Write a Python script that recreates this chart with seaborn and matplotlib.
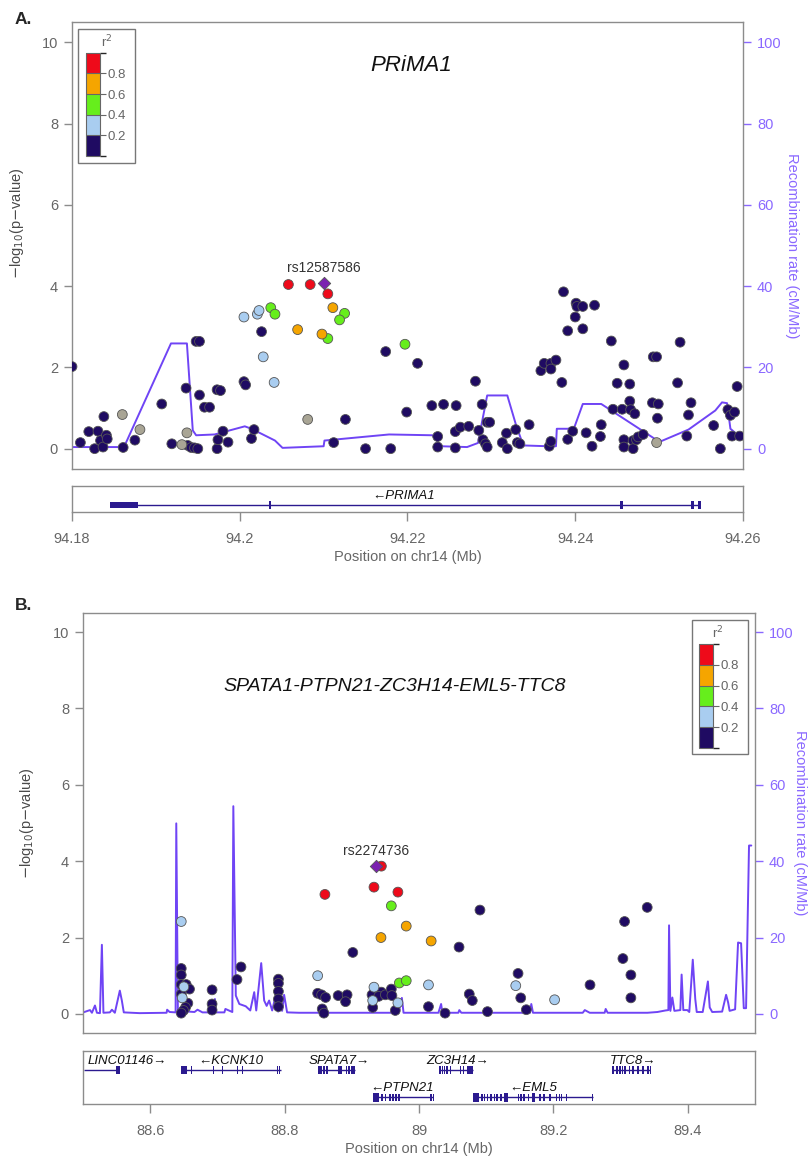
import numpy as np
import pandas as pd
import matplotlib
matplotlib.use("Agg")
import matplotlib.pyplot as plt
import seaborn as sns
from matplotlib.colors import ListedColormap, BoundaryNorm
from matplotlib.cm import ScalarMappable
from matplotlib.patches import Rectangle

sns.set_theme(style="white")
plt.rcParams["font.family"] = ["Liberation Sans", "DejaVu Sans"]

# ---------------- colours ----------------
LD_ORDER = ["navy", "gray", "lblue", "green", "orange", "red"]
LD_COLORS = {"navy": "#1f0b62", "gray": "#a9a595", "lblue": "#a9cdf0",
             "green": "#66ee1c", "orange": "#f5a500", "red": "#ee0a1a"}
LEAD_COLOR = "#7b22b0"
REC_COLOR = "#6f44f5"
REC_AXIS_COLOR = "#8a68ff"
GENE_COLOR = "#2b1a8f"
GRAY = "#666666"
FRAME = "#8c8c8c"

# ---------------- Panel A data (PRiMA1) ----------------
a_navy_pos = [94.1800, 94.1810, 94.1820, 94.1827, 94.1831, 94.1834, 94.1837, 94.1838, 94.1841, 94.1842,
              94.1861, 94.1875, 94.1907, 94.1919, 94.1936, 94.1938, 94.1942, 94.1946, 94.1950, 94.1948,
              94.1952, 94.1952, 94.1958, 94.1964, 94.1973, 94.1977, 94.1973, 94.1974, 94.1980, 94.1986,
              94.2005, 94.2007, 94.2014, 94.2017, 94.2026, 94.2126, 94.2112, 94.2150, 94.2174, 94.2180,
              94.2199, 94.2212, 94.2229, 94.2236, 94.2236, 94.2243, 94.2258, 94.2257, 94.2257, 94.2263,
              94.2273, 94.2281, 94.2285, 94.2289, 94.2290, 94.2293, 94.2295, 94.2295, 94.2298, 94.2313,
              94.2318, 94.2319, 94.2329, 94.2331, 94.2334, 94.2345, 94.2359, 94.2363, 94.2371, 94.2371,
              94.2377, 94.2384, 94.2369, 94.2371, 94.2386, 94.2391, 94.2391, 94.2397, 94.2401, 94.2402,
              94.2400, 94.2409, 94.2409, 94.2413, 94.2420, 94.2423, 94.2430, 94.2431, 94.2443, 94.2445,
              94.2450, 94.2458, 94.2456, 94.2458, 94.2458, 94.2465, 94.2465, 94.2466, 94.2471, 94.2469,
              94.2469, 94.2473, 94.2475, 94.2481, 94.2492, 94.2499, 94.2498, 94.2493, 94.2497, 94.2522,
              94.2525, 94.2533, 94.2535, 94.2538, 94.2565, 94.2573, 94.2582, 94.2585, 94.2590, 94.2587,
              94.2596, 94.2593]
a_navy_logp = [2.02, 0.15, 0.42, 0.00, 0.43, 0.20, 0.04, 0.79, 0.33, 0.24,
               0.03, 0.21, 1.10, 0.12, 1.49, 0.08, 0.03, 0.02, 0.00, 2.64,
               2.64, 1.32, 1.02, 1.02, 1.45, 1.43, 0.00, 0.22, 0.43, 0.16,
               1.65, 1.57, 0.25, 0.47, 2.88, 0.72, 0.15, 0.00, 2.39, 0.00,
               0.90, 2.10, 1.06, 0.30, 0.04, 1.09, 1.06, 0.42, 0.02, 0.53,
               0.55, 1.66, 0.45, 1.09, 0.22, 0.12, 0.04, 0.65, 0.65, 0.15,
               0.38, 0.00, 0.47, 0.15, 0.12, 0.59, 1.92, 2.10, 2.10, 1.96,
               2.18, 1.63, 0.06, 0.18, 3.86, 2.90, 0.23, 0.43, 3.58, 3.50,
               3.24, 3.50, 2.95, 0.39, 0.06, 3.53, 0.30, 0.59, 2.65, 0.97,
               1.61, 2.06, 0.97, 0.22, 0.04, 1.59, 1.17, 0.96, 0.86, 0.20,
               0.00, 0.22, 0.29, 0.35, 1.13, 1.10, 0.75, 2.26, 2.26, 1.62,
               2.62, 0.31, 0.83, 1.13, 0.57, 0.00, 0.96, 0.82, 0.90, 0.31,
               0.31, 1.53]
a_gray_pos = [94.1860, 94.1881, 94.1931, 94.1937, 94.2081, 94.2497]
a_gray_logp = [0.84, 0.47, 0.10, 0.39, 0.72, 0.15]
a_lblue_pos = [94.2005, 94.2021, 94.2023, 94.2028, 94.2041]
a_lblue_logp = [3.24, 3.31, 3.40, 2.26, 1.63]
a_green_pos = [94.2037, 94.2042, 94.2105, 94.2125, 94.2119, 94.2197]
a_green_logp = [3.47, 3.31, 2.71, 3.33, 3.17, 2.57]
a_orange_pos = [94.2069, 94.2098, 94.2111]
a_orange_logp = [2.93, 2.82, 3.47]
a_red_pos = [94.2058, 94.2084, 94.2105]
a_red_logp = [4.04, 4.04, 3.81]
a_lead_pos, a_lead_logp, a_lead_name = 94.2100, 4.07, "rs12587586"

a_rec_pos = [94.1800, 94.1862, 94.1918, 94.1937, 94.1944, 94.1948, 94.1970, 94.2006, 94.2014, 94.2042,
             94.2051, 94.2100, 94.2101, 94.2178, 94.2230, 94.2240, 94.2271, 94.2284, 94.2295, 94.2319,
             94.2329, 94.2338, 94.2367, 94.2377, 94.2378, 94.2391, 94.2399, 94.2409, 94.2431, 94.2495,
             94.2503, 94.2535, 94.2567, 94.2575, 94.2581, 94.2585, 94.2596, 94.2600]
a_rec_rate = [0.4, 0.4, 25.9, 25.9, 4.5, 3.3, 3.5, 5.5, 4.9, 2.0,
              0.2, 0.6, 2.0, 3.5, 3.3, 0.6, 0.4, 1.4, 13.1, 13.1,
              6.1, 0.8, 0.6, 0.6, 4.9, 4.9, 5.3, 11.0, 11.0, 2.4,
              1.9, 4.7, 9.4, 11.4, 11.2, 4.9, 3.0, 3.0]

a_gene_name = ["PRIMA1"]
a_gene_start = [94.1845]
a_gene_end = [94.2548]
a_gene_strand = ["-"]
a_gene_row = [0]
a_gene_label_x = [94.2195]
a_exon_blocks = [[(94.1845, 94.1879)]]
a_exon_ticks = [[94.2036, 94.2455, 94.2540, 94.2548]]

# ---------------- Panel B data ----------------
b_navy_pos = [88.6462, 88.6462, 88.6462, 88.6536, 88.6585, 88.6462, 88.6560, 88.6526, 88.6496, 88.6462,
              88.6921, 88.6921, 88.6921, 88.7292, 88.7351, 88.7908, 88.7908, 88.7908, 88.7908, 88.7908,
              88.8492, 88.8551, 88.8610, 88.8560, 88.8585, 88.8797, 88.8930, 88.8907, 88.9015, 88.9301,
              88.9311, 88.9440, 88.9400, 88.9499, 88.9588, 88.9597, 88.9647, 89.0141, 89.0388, 89.0596,
              89.0748, 89.0793, 89.0907, 89.1019, 89.1474, 89.1514, 89.1597, 89.2545, 89.3059, 89.3034,
              89.3153, 89.3153, 89.3396]
b_navy_logp = [1.19, 1.02, 0.77, 0.77, 0.65, 0.52, 0.28, 0.17, 0.09, 0.02,
               0.63, 0.26, 0.10, 0.90, 1.23, 0.91, 0.80, 0.59, 0.39, 0.19,
               0.54, 0.50, 0.43, 0.13, 0.02, 0.48, 0.50, 0.32, 1.61, 0.50,
               0.17, 0.57, 0.46, 0.50, 0.65, 0.48, 0.09, 0.19, 0.02, 1.75,
               0.52, 0.35, 2.72, 0.06, 1.06, 0.42, 0.11, 0.76, 2.42, 1.45,
               1.02, 0.42, 2.79]
b_lblue_pos = [88.6462, 88.6501, 88.6477, 88.8492, 88.9330, 88.9311, 88.9686, 89.0141, 89.1440, 89.2018]
b_lblue_logp = [2.42, 0.71, 0.42, 1.00, 0.70, 0.35, 0.29, 0.76, 0.74, 0.37]
b_green_pos = [88.9588, 88.9707, 88.9810]
b_green_logp = [2.83, 0.81, 0.87]
b_orange_pos = [88.9810, 88.9434, 89.0181]
b_orange_logp = [2.30, 2.00, 1.91]
b_red_pos = [88.8600, 88.9330, 88.9440, 88.9686]
b_red_logp = [3.13, 3.32, 3.87, 3.19]
b_lead_pos, b_lead_logp, b_lead_name = 88.9366, 3.87, "rs2274736"

b_rec_pos = [88.5004, 88.5104, 88.5133, 88.5178, 88.5207, 88.5252, 88.5281, 88.5304, 88.5400, 88.5430,
             88.5474, 88.5548, 88.5578, 88.5607, 88.5844, 88.6244, 88.6252, 88.6289, 88.6378, 88.6388,
             88.6412, 88.6659, 88.6704, 88.6778, 88.6956, 88.6963, 88.6978, 88.7104, 88.7119, 88.7222,
             88.7237, 88.7274, 88.7326, 88.7422, 88.7489, 88.7548, 88.7578, 88.7652, 88.7696, 88.7733,
             88.7770, 88.7815, 88.7867, 88.7904, 88.7919, 88.7963, 88.7993, 88.8037, 88.8215, 88.8659,
             88.9400, 88.9696, 88.9745, 88.9770, 89.0289, 89.0329, 89.0348, 89.0585, 89.0600, 89.0630,
             89.1178, 89.1652, 89.1671, 89.1696, 89.2437, 89.2467, 89.2541, 89.2763, 89.2778, 89.2807,
             89.3400, 89.3548, 89.3667, 89.3711, 89.3721, 89.3741, 89.3770, 89.3800, 89.3889, 89.3908,
             89.3933, 89.3993, 89.4022, 89.4074, 89.4111, 89.4133, 89.4222, 89.4299, 89.4326, 89.4363,
             89.4511, 89.4570, 89.4600, 89.4622, 89.4704, 89.4748, 89.4793, 89.4833, 89.4867, 89.4911,
             89.4945]
b_rec_rate = [0.4, 1.0, 0.3, 2.2, 0.3, 0.2, 18.1, 0.3, 0.4, 1.1,
              0.3, 6.1, 3.5, 0.4, 0.2, 0.3, 1.1, 0.5, 0.4, 49.9,
              0.8, 0.5, 1.1, 0.4, 0.4, 3.9, 0.4, 0.4, 1.3, 0.5,
              54.4, 4.8, 2.6, 2.0, 0.9, 5.7, 0.9, 13.3, 3.5, 2.1,
              3.5, 0.9, 4.8, 0.6, 4.3, 0.8, 5.0, 0.4, 0.3, 0.3,
              0.3, 0.3, 4.2, 0.3, 0.3, 2.6, 0.3, 0.3, 1.0, 0.3,
              0.3, 0.3, 2.6, 0.3, 0.3, 1.0, 0.3, 0.3, 1.3, 0.3,
              0.3, 0.5, 0.9, 1.0, 23.2, 0.8, 4.3, 0.8, 1.0, 10.3,
              1.0, 1.0, 0.5, 14.2, 3.9, 0.5, 0.5, 8.5, 1.7, 0.5,
              0.6, 5.0, 3.0, 0.8, 1.2, 18.7, 18.5, 1.5, 1.5, 44.1,
              44.1]

b_gene_name = ["LINC01146", "KCNK10", "SPATA7", "ZC3H14", "TTC8", "PTPN21", "EML5"]
b_gene_start = [88.5010, 88.6465, 88.8510, 89.0296, 89.2889, 88.9317, 89.0805]
b_gene_end = [88.5540, 88.7940, 88.9054, 89.0805, 89.3442, 89.0212, 89.2583]
b_gene_strand = ["+", "-", "+", "+", "+", "-", "-"]
b_gene_row = [0, 0, 0, 0, 0, 1, 1]
b_gene_label_x = [88.5070, 88.7198, 88.8807, 89.0568, 89.3185, 88.9753, 89.1704]
b_exon_blocks = [[], [(88.6465, 88.6545)], [], [(89.0296, 89.0330), (89.0716, 89.0805)], [],
                 [(88.9317, 88.9410)], [(89.0805, 89.0889), (89.1269, 89.1319), (89.1679, 89.1728)]]
b_exon_ticks = [[88.5505, 88.5535],
                [88.6614, 88.6940, 88.7074, 88.7297, 88.7371, 88.7891, 88.7925],
                [88.8510, 88.8545, 88.8584, 88.8634, 88.8807, 88.8842, 88.8920, 88.8960, 88.9005, 88.9035],
                [89.0350, 89.0380, 89.0420, 89.0470, 89.0620, 89.0660],
                [89.2889, 89.2948, 89.2988, 89.3027, 89.3062, 89.3136, 89.3185, 89.3259, 89.3333, 89.3407,
                 89.3442],
                [88.9450, 88.9500, 88.9570, 88.9610, 88.9660, 88.9700, 89.0180, 89.0212],
                [89.0938, 89.0973, 89.1022, 89.1072, 89.1121, 89.1160, 89.1220, 89.1481, 89.1516, 89.1565,
                 89.1630, 89.1802, 89.1862, 89.1951, 89.2049, 89.2089, 89.2123, 89.2198, 89.2583]]


def ld_frame(groups):
    frames = []
    for cat, pos, logp in groups:
        frames.append(pd.DataFrame({"pos": pos, "logp": logp, "ld": cat}))
    return pd.concat(frames, ignore_index=True)


dfA = ld_frame([("navy", a_navy_pos, a_navy_logp), ("gray", a_gray_pos, a_gray_logp),
                ("lblue", a_lblue_pos, a_lblue_logp), ("green", a_green_pos, a_green_logp),
                ("orange", a_orange_pos, a_orange_logp), ("red", a_red_pos, a_red_logp)])
dfB = ld_frame([("navy", b_navy_pos, b_navy_logp), ("lblue", b_lblue_pos, b_lblue_logp),
                ("green", b_green_pos, b_green_logp), ("orange", b_orange_pos, b_orange_logp),
                ("red", b_red_pos, b_red_logp)])
recA = pd.DataFrame({"pos": a_rec_pos, "rate": a_rec_rate})
recB = pd.DataFrame({"pos": b_rec_pos, "rate": b_rec_rate})

W, H = 810, 1158
fig = plt.figure(figsize=(W / 100, H / 100), dpi=100)


def frac(left, top, right, bottom):
    return [left / W, 1 - bottom / H, (right - left) / W, (bottom - top) / H]


def style_frame(ax):
    for s in ax.spines.values():
        s.set_visible(True)
        s.set_color(FRAME)
        s.set_linewidth(1.0)


def main_panel(rect, df, rec, lead, xlim, title, title_xy, title_size, legend_box, cbar_box, r2_xy,
               ylab_x, rlab_x, ylab_y):
    ax = fig.add_axes(rect)
    ax2 = ax.twinx()
    sns.lineplot(data=rec, x="pos", y="rate", ax=ax2, color=REC_COLOR, lw=1.4,
                 sort=False, estimator=None)
    sns.scatterplot(data=df, x="pos", y="logp", hue="ld", hue_order=LD_ORDER, palette=LD_COLORS,
                    s=50, edgecolor="#555555", linewidth=0.6, legend=False, ax=ax, zorder=3)
    lx, ly, lname = lead
    ax.scatter([lx], [ly], marker="D", s=40, color=LEAD_COLOR, edgecolor="#555555",
               linewidth=0.6, zorder=4)
    ax.annotate(lname, (lx, ly), xytext=(0, 11), textcoords="offset points",
                ha="center", va="center", fontsize=10, color="#333333")
    ax.set_zorder(ax2.get_zorder() + 1)
    ax.patch.set_visible(False)

    ax.set_xlim(*xlim)
    ax2.set_xlim(*xlim)
    ax.set_ylim(-0.5, 10.5)
    ax2.set_ylim(-5, 105)
    ax.set_xticks([])
    ax.set_xlabel("")
    ax2.set_xlabel("")
    ax.set_yticks([0, 2, 4, 6, 8, 10])
    ax2.set_yticks([0, 20, 40, 60, 80, 100])
    ax.tick_params(axis="y", left=True, length=6, width=1, color=FRAME, labelcolor=GRAY,
                   labelsize=10.5, pad=4)
    ax2.tick_params(axis="y", right=True, length=6, width=1, color=REC_AXIS_COLOR,
                    labelcolor=REC_AXIS_COLOR, labelsize=10.5, pad=4)
    style_frame(ax)
    for s in ax2.spines.values():
        s.set_visible(False)
    ax.set_ylabel(r"$-$log$_{10}$(p$-$value)", fontsize=10.5, color="#4a4a4a")
    ax.yaxis.set_label_coords(ylab_x, ylab_y)
    ax2.set_ylabel("Recombination rate (cM/Mb)", fontsize=10.5, color=REC_AXIS_COLOR,
                   rotation=270, va="bottom")
    ax2.yaxis.set_label_coords(rlab_x, 0.5)

    ax.text(title_xy[0], title_xy[1], title, transform=ax.transAxes, ha="center", va="center",
            fontsize=title_size, style="italic", color="#111111")

    # r2 legend
    bx0, by0, bx1, by1 = legend_box
    ax.add_patch(Rectangle((bx0, by0), bx1 - bx0, by1 - by0, transform=ax.transAxes,
                           facecolor="white", edgecolor="#777777", lw=1.0, zorder=6))
    cax = ax.inset_axes(cbar_box)
    cax.set_zorder(7)
    cmap = ListedColormap([LD_COLORS[c] for c in ["navy", "lblue", "green", "orange", "red"]])
    norm = BoundaryNorm([0, 0.2, 0.4, 0.6, 0.8, 1.0], cmap.N)
    cb = fig.colorbar(ScalarMappable(norm=norm, cmap=cmap), cax=cax,
                      ticks=[0.2, 0.4, 0.6, 0.8], drawedges=True)
    cb.outline.set_edgecolor("#666666")
    cb.outline.set_linewidth(0.8)
    cb.dividers.set_color("#666666")
    cb.dividers.set_linewidth(0.8)
    cax.tick_params(labelsize=9.5, colors=GRAY, length=4, width=0.8, pad=1)
    ax.text(r2_xy[0], r2_xy[1], r"r$^2$", transform=ax.transAxes, ha="center", va="center",
            fontsize=9.5, color=GRAY, zorder=8)
    return ax


def gene_panel(rect, xlim, xticks, xticklabels, names, starts, ends, strands, rows, label_x,
               blocks, ticks, row_y, label_dy, ext_h, tick_h, tick_w, left_align_first=False):
    g = fig.add_axes(rect)
    g.set_xlim(*xlim)
    g.set_ylim(0, 1)
    style_frame(g)
    g.set_yticks([])
    g.set_xticks(xticks)
    g.set_xticklabels(xticklabels)
    g.tick_params(axis="x", bottom=True, direction="out", length=6.5, width=1, color=FRAME,
                  labelcolor=GRAY, labelsize=10.5, pad=8)
    g.set_xlabel("Position on chr14 (Mb)", fontsize=10.5, color=GRAY, labelpad=3)
    for i, name in enumerate(names):
        y = row_y[rows[i]]
        g.hlines(y, starts[i], ends[i], color=GENE_COLOR, lw=1.0)
        for (s0, s1) in blocks[i]:
            g.add_patch(Rectangle((s0, y - ext_h / 2), s1 - s0, ext_h, facecolor=GENE_COLOR,
                                  edgecolor="none"))
        for t in ticks[i]:
            g.add_patch(Rectangle((t - tick_w / 2, y - tick_h / 2), tick_w, tick_h,
                                  facecolor=GENE_COLOR, edgecolor="none"))
        lab = ("\u2190" + name) if strands[i] == "-" else (name + "\u2192")
        ha = "left" if (left_align_first and i == 0) else "center"
        g.text(label_x[i], y + label_dy, lab, ha=ha, va="center", fontsize=9.5,
               style="italic", color="#111111")
    return g


# ---------------- Panel A ----------------
main_panel(frac(72, 22, 743, 469), dfA, recA, (a_lead_pos, a_lead_logp, a_lead_name),
           (94.18, 94.26), "PRiMA1", (0.505, 0.902), 16,
           (0.009, 0.685, 0.094, 0.984), [0.021, 0.700, 0.021, 0.231], (0.052, 0.955),
           -0.068, 1.062, 0.55)
gene_panel(frac(72, 486, 743, 512), (94.18, 94.26), [94.18, 94.2, 94.22, 94.24, 94.26],
           ["94.18", "94.2", "94.22", "94.24", "94.26"],
           a_gene_name, a_gene_start, a_gene_end, a_gene_strand, a_gene_row, a_gene_label_x,
           a_exon_blocks, a_exon_ticks, row_y=[0.27], label_dy=0.34, ext_h=0.2, tick_h=0.3,
           tick_w=0.0003)

# ---------------- Panel B ----------------
main_panel(frac(83, 613, 755, 1033), dfB, recB, (b_lead_pos, b_lead_logp, b_lead_name),
           (88.5, 89.5), "SPATA1-PTPN21-ZC3H14-EML5-TTC8", (0.464, 0.826), 14,
           (0.906, 0.664, 0.989, 0.983), [0.917, 0.679, 0.021, 0.247], (0.945, 0.952),
           -0.070, 1.056, 0.5)
gene_panel(frac(83, 1051, 755, 1104), (88.5, 89.5), [88.6, 88.8, 89.0, 89.2, 89.4],
           ["88.6", "88.8", "89", "89.2", "89.4"],
           b_gene_name, b_gene_start, b_gene_end, b_gene_strand, b_gene_row, b_gene_label_x,
           b_exon_blocks, b_exon_ticks, row_y=[0.64, 0.125], label_dy=0.18, ext_h=0.16,
           tick_h=0.14, tick_w=0.0022, left_align_first=True)

fig.text(15 / W, 1 - 20 / H, "A.", ha="left", va="center", fontsize=12.5, weight="bold")
fig.text(15 / W, 1 - 606 / H, "B.", ha="left", va="center", fontsize=12.5, weight="bold")

fig.savefig("out.png", dpi=100)
